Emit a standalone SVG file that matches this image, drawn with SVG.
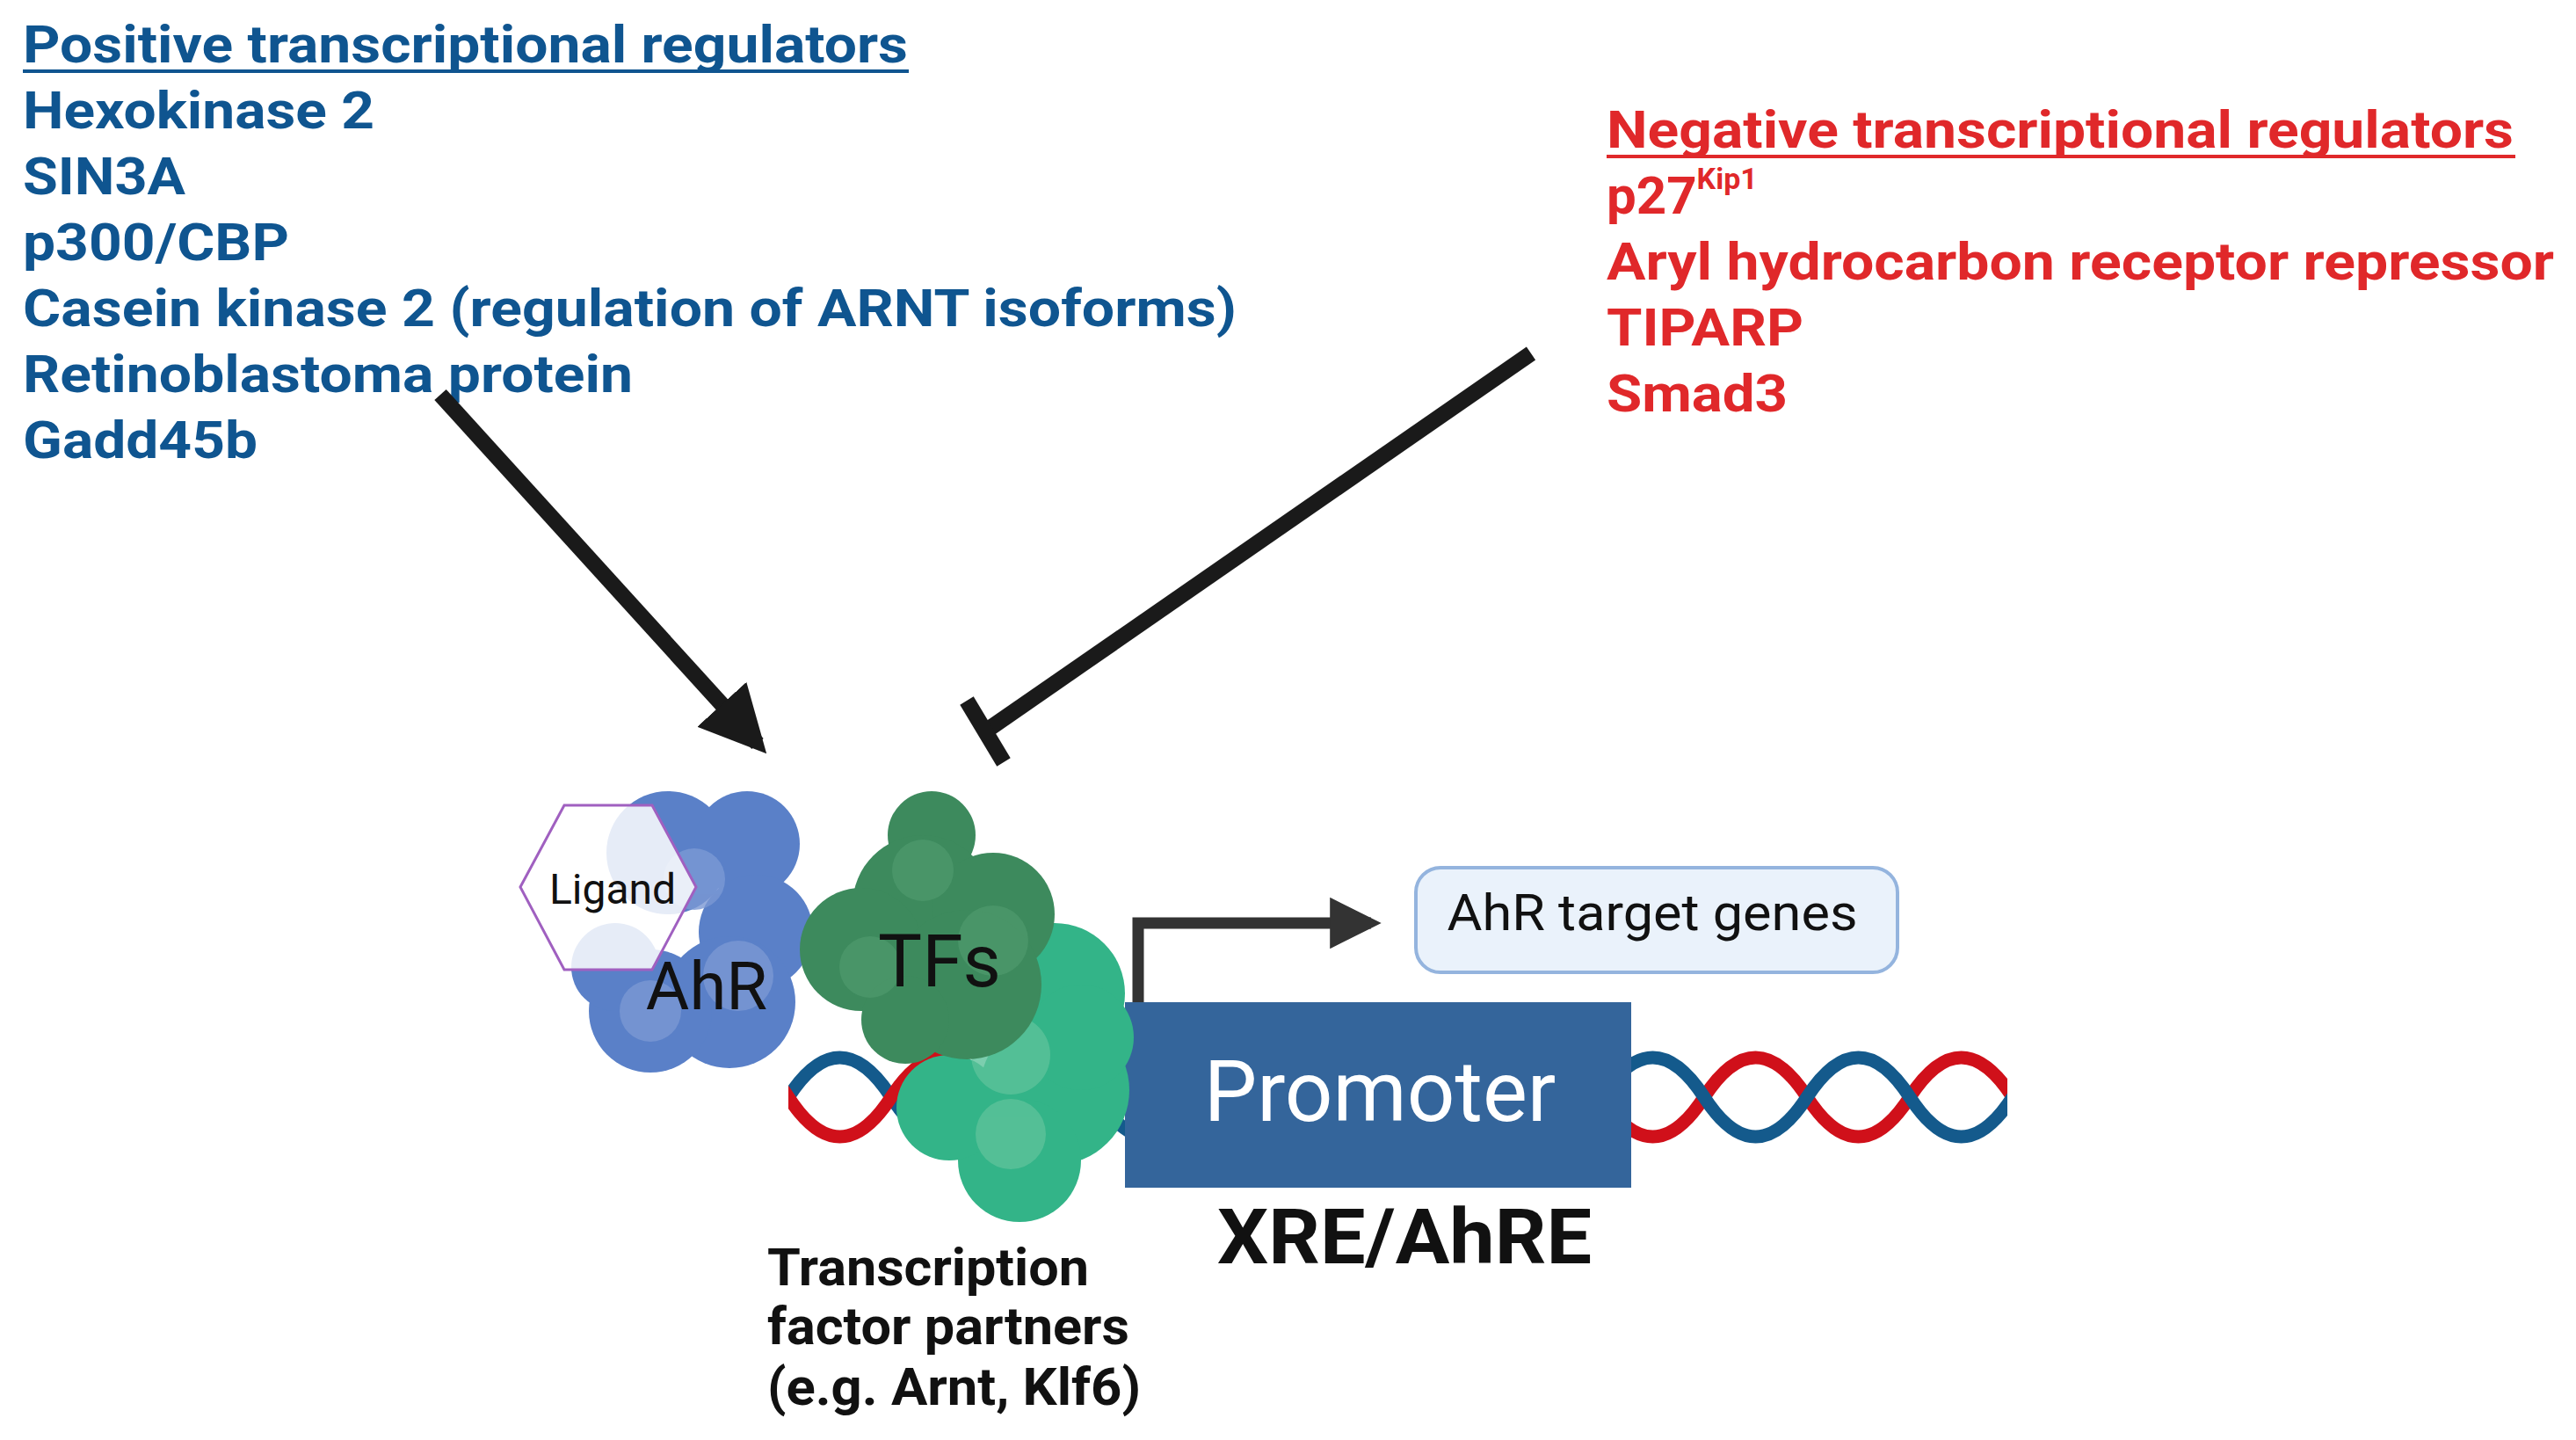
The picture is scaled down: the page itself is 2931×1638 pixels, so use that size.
<svg xmlns="http://www.w3.org/2000/svg" width="2931" height="1638" viewBox="0 0 2931 1638">
<style>
.pos{font-family:Roboto,"Liberation Sans",sans-serif;font-weight:bold;font-size:60px;fill:#0f5590}
.neg{font-family:Roboto,"Liberation Sans",sans-serif;font-weight:bold;font-size:60px;fill:#e0282a}
.lbl{font-family:Roboto,"Liberation Sans",sans-serif;fill:#111}
.b{font-weight:bold}
</style>
<defs>
<marker id="ah" viewBox="0 0 10 10" refX="8" refY="5" markerWidth="4.2" markerHeight="4.2" orient="auto" markerUnits="strokeWidth"><path d="M0,0L10,5L0,10z" fill="#1a1a1a"/></marker>
<marker id="ah2" viewBox="0 0 10 10" refX="8" refY="5" markerWidth="4.5" markerHeight="4.5" orient="auto" markerUnits="strokeWidth"><path d="M0,0L10,5L0,10z" fill="#333"/></marker>
<clipPath id="cl"><rect x="897" y="1100" width="383" height="300"/></clipPath>
<clipPath id="cr"><rect x="1856" y="1100" width="428" height="300"/></clipPath>
</defs>
<rect width="2931" height="1638" fill="#fff"/>
<g id="positive">
<text class="pos" x="26" y="71" textLength="1007" lengthAdjust="spacingAndGlyphs">Positive transcriptional regulators</text>
<rect x="26" y="79" width="1008" height="4" fill="#0f5590"/>
<text class="pos" x="26" y="146" textLength="400" lengthAdjust="spacingAndGlyphs">Hexokinase 2</text>
<text class="pos" x="26" y="221" textLength="185" lengthAdjust="spacingAndGlyphs">SIN3A</text>
<text class="pos" x="26" y="296" textLength="303" lengthAdjust="spacingAndGlyphs">p300/CBP</text>
<text class="pos" x="26" y="371" textLength="1381" lengthAdjust="spacingAndGlyphs">Casein kinase 2 (regulation of ARNT isoforms)</text>
<text class="pos" x="26" y="446" textLength="694" lengthAdjust="spacingAndGlyphs">Retinoblastoma protein</text>
<text class="pos" x="26" y="521" textLength="267" lengthAdjust="spacingAndGlyphs">Gadd45b</text>
</g>
<g id="negative">
<text class="neg" x="1828" y="168" textLength="1032" lengthAdjust="spacingAndGlyphs">Negative transcriptional regulators</text>
<rect x="1828" y="176" width="1034" height="4" fill="#e0282a"/>
<text class="neg" x="1828" y="243">p27<tspan font-size="34" dy="-28">Kip1</tspan></text>
<text class="neg" x="1828" y="318" textLength="1078" lengthAdjust="spacingAndGlyphs">Aryl hydrocarbon receptor repressor</text>
<text class="neg" x="1828" y="393" textLength="224" lengthAdjust="spacingAndGlyphs">TIPARP</text>
<text class="neg" x="1828" y="468" textLength="206" lengthAdjust="spacingAndGlyphs">Smad3</text>
</g>
<g id="dna" fill="none" stroke-width="15">
<g clip-path="url(#cl)">
<path d="M780,1248 Q838.5,1338 897,1248 T1014,1248 T1131,1248 T1248,1248 T1365,1248" stroke="#145a8c"/>
<path d="M780,1248 Q838.5,1158 897,1248 T1014,1248 T1131,1248 T1248,1248 T1365,1248" stroke="#d0101a"/>
</g>
<g clip-path="url(#cr)">
<path d="M1822,1248 Q1880.5,1338 1939,1248 T2056,1248 T2173,1248 T2290,1248 T2407,1248" stroke="#d0101a"/>
<path d="M1822,1248 Q1880.5,1158 1939,1248 T2056,1248 T2173,1248 T2290,1248 T2407,1248" stroke="#145a8c"/>
</g>
</g>
<g id="promoter">
<rect x="1280" y="1140" width="576" height="211" fill="#34659b"/>
<text class="lbl" x="1570" y="1275" font-size="96" style="fill:#fff" text-anchor="middle">Promoter</text>
<text class="lbl b" x="1598" y="1437" font-size="88" text-anchor="middle" textLength="426" lengthAdjust="spacingAndGlyphs">XRE/AhRE</text>
</g>
<g id="ahr">
<g fill="#5a80c8">
<circle cx="760" cy="970" r="70"/><circle cx="850" cy="960" r="60"/><circle cx="860" cy="1060" r="65"/><circle cx="830" cy="1140" r="75"/><circle cx="740" cy="1150" r="70"/><circle cx="700" cy="1100" r="50"/>
</g>
<g fill="#7b98d4" opacity="0.8"><circle cx="790" cy="1000" r="35"/><circle cx="840" cy="1110" r="40"/><circle cx="740" cy="1150" r="35"/></g>
<text class="lbl" x="804" y="1148" font-size="76" text-anchor="middle">AhR</text>
</g>
<g id="ligand">
<polygon points="592,1009 642,916 742,916 792,1009 742,1103 642,1103" fill="#fff" fill-opacity="0.85" stroke="#a060c0" stroke-width="3"/>
<text class="lbl" x="697" y="1028" font-size="48" text-anchor="middle">Ligand</text>
</g>
<g id="partner">
<g fill="#33b488">
<circle cx="1200" cy="1130" r="80"/><circle cx="1200" cy="1240" r="85"/><circle cx="1160" cy="1320" r="70"/><circle cx="1080" cy="1260" r="60"/><circle cx="1230" cy="1180" r="60"/>
</g>
<g fill="#5cc29a" opacity="0.8"><circle cx="1150" cy="1200" r="45"/><circle cx="1150" cy="1290" r="40"/></g>
</g>
<g id="tfs">
<g fill="#3d8a5d">
<circle cx="1060" cy="950" r="50"/><circle cx="1050" cy="1030" r="80"/><circle cx="1130" cy="1040" r="70"/><circle cx="980" cy="1080" r="70"/><circle cx="1100" cy="1120" r="85"/><circle cx="1030" cy="1160" r="50"/>
</g>
<g fill="#4f9a6d" opacity="0.7"><circle cx="1050" cy="990" r="35"/><circle cx="990" cy="1100" r="35"/><circle cx="1130" cy="1070" r="40"/></g>
<text class="lbl" x="1069" y="1122" font-size="84" text-anchor="middle">TFs</text>
</g>
<g id="target">
<rect x="1611" y="987" width="548" height="119" rx="28" fill="#eaf2fb" stroke="#94b4de" stroke-width="4"/>
<text class="lbl" x="1880" y="1058" font-size="58" text-anchor="middle" textLength="467" lengthAdjust="spacingAndGlyphs">AhR target genes</text>
</g>
<g id="partnerlabel" class="lbl b" font-size="60">
<text x="873" y="1462" textLength="366" lengthAdjust="spacingAndGlyphs">Transcription</text>
<text x="873" y="1529" textLength="412" lengthAdjust="spacingAndGlyphs">factor partners</text>
<text x="873" y="1598" textLength="425" lengthAdjust="spacingAndGlyphs">(e.g. Arnt, Klf6)</text>
</g>
<g id="connectors" fill="none">
<path d="M501,449 L862,846" stroke="#1a1a1a" stroke-width="18" marker-end="url(#ah)"/>
<path d="M1742,402 L1121,832" stroke="#1a1a1a" stroke-width="18"/>
<path d="M1100,797 L1142,867" stroke="#1a1a1a" stroke-width="18"/>
<path d="M1295,1140 L1295,1050 L1560,1050" stroke="#333" stroke-width="13" marker-end="url(#ah2)"/>
</g>
</svg>
